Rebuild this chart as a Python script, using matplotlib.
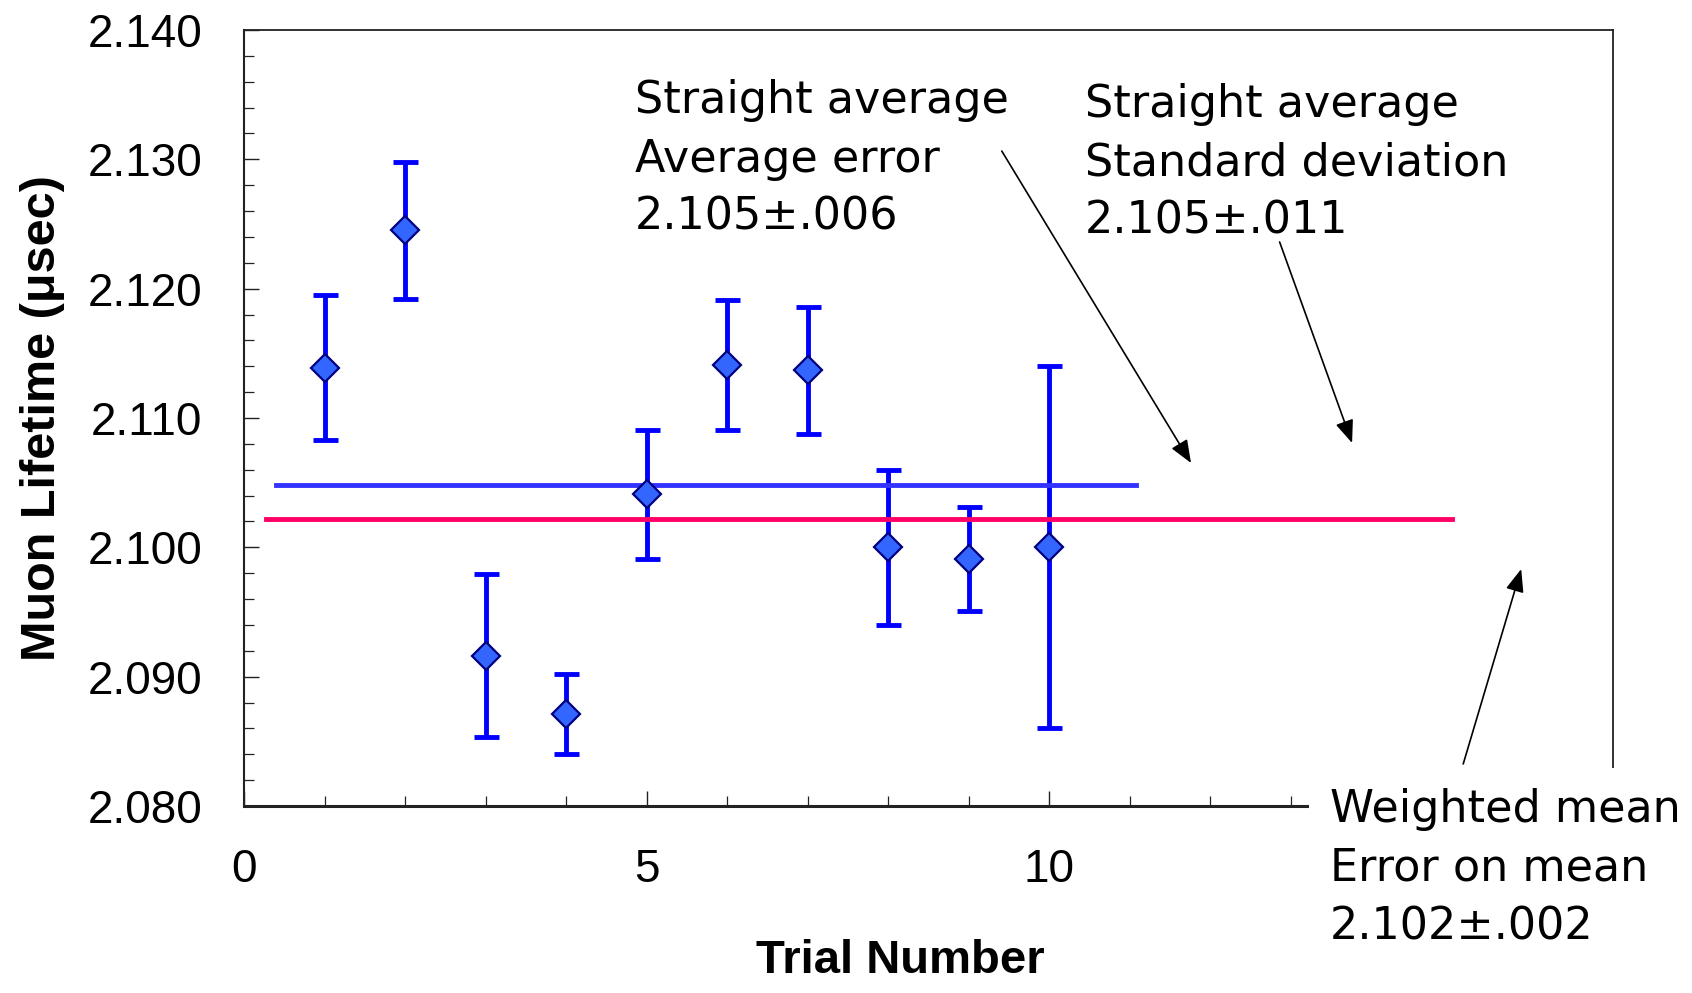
import matplotlib.pyplot as plt
from matplotlib.ticker import MultipleLocator, FormatStrFormatter, FuncFormatter

# measured muon lifetimes per trial (usec) with their errors
trial = [1, 2, 3, 4, 5, 6, 7, 8, 9, 10]
lifetime = [2.1139, 2.1245, 2.0916, 2.0871, 2.1041, 2.1141, 2.1137, 2.1000, 2.0991, 2.1000]
lifetime_err = [0.0056, 0.0053, 0.0063, 0.0031, 0.0050, 0.0050, 0.0049, 0.0060, 0.0040, 0.0140]

# the two reference lines drawn across the plot
straight_avg = 2.1048
straight_avg_x = [0.4, 11.08]
weighted_mean = 2.1022
weighted_mean_x = [0.27, 15.0]

note_straight_err = "Straight average\nAverage error\n2.105\u00b1.006"
note_straight_std = "Straight average\nStandard deviation\n2.105\u00b1.011"
note_weighted = "Weighted mean\nError on mean\n2.102\u00b1.002"

W, H = 1692, 993
fig = plt.figure(figsize=(W / 100, H / 100), dpi=100)
ax = fig.add_axes([244 / W, 1 - 806 / H, 1369 / W, 776 / H])

ax.errorbar(trial, lifetime, yerr=lifetime_err, fmt='none', ecolor='#0000FF',
            elinewidth=3.5, capsize=9, capthick=3.5, zorder=2)
ax.plot(straight_avg_x, [straight_avg] * 2, color='#3333FF', lw=3.5, zorder=3)
ax.plot(weighted_mean_x, [weighted_mean] * 2, color='#FF0066', lw=3.5, zorder=3)
ax.plot(trial, lifetime, linestyle='none', marker='D', ms=14,
        mfc='#3366FF', mec='#000080', mew=1.6, zorder=4)

ax.set_xlim(0, 17)
ax.set_ylim(2.080, 2.140)
ax.xaxis.set_major_locator(MultipleLocator(5))
ax.xaxis.set_minor_locator(MultipleLocator(1))
ax.yaxis.set_major_locator(MultipleLocator(0.010))
ax.yaxis.set_minor_locator(MultipleLocator(0.002))
ax.yaxis.set_major_formatter(FormatStrFormatter('%.3f'))
# the "15" label sits under the weighted-mean note in the original
ax.xaxis.set_major_formatter(FuncFormatter(lambda v, p: '' if v > 13 else f'{v:.0f}'))

ax.tick_params(which='both', direction='in', top=False, right=False, color='#222222')
ax.tick_params(which='major', length=10.5, width=1.0, labelsize=33, pad=30)
ax.tick_params(which='minor', length=7, width=0.9)
for lab in ax.get_xticklabels() + ax.get_yticklabels():
    lab.set_family('Liberation Sans')

ax.spines['bottom'].set_linewidth(2.2)
ax.spines['left'].set_linewidth(1.5)
ax.spines['top'].set_linewidth(1.3)
ax.spines['right'].set_linewidth(1.3)
for s in ax.spines.values():
    s.set_color('#222222')

ax.set_xlabel("Trial Number", fontsize=34, fontweight='bold', family='Liberation Sans')
ax.set_ylabel("Muon Lifetime (\u03bcsec)", fontsize=35, fontweight='bold', family='Liberation Sans')
ax.xaxis.set_label_coords((900 - 244) / 1369, -0.172)
ax.yaxis.set_label_coords(-0.131, 0.5)

arrow = dict(arrowstyle='-|>,head_length=0.7,head_width=0.28', color='black',
             lw=1.2, mutation_scale=20, shrinkA=0, shrinkB=0)
ax.annotate('', xy=(11.76, 2.10652), xytext=(9.41, 2.13064), arrowprops=arrow, annotation_clip=False)
ax.annotate('', xy=(13.76, 2.10807), xytext=(12.86, 2.12361), arrowprops=arrow, annotation_clip=False)
ax.annotate('', xy=(15.86, 2.09832), xytext=(15.14, 2.08325), arrowprops=arrow, annotation_clip=False)

# multiline text with va='baseline' sits on the baseline of its last line
note_style = dict(fontsize=32, family='DejaVu Sans', va='baseline', ha='left', linespacing=1.45)
fig.text(635 / W, 1 - 230 / H, note_straight_err, **note_style)
fig.text(1085 / W, 1 - 234 / H, note_straight_std, **note_style)
fig.text(1330 / W, 1 - 939 / H, note_weighted, zorder=10,
         bbox=dict(boxstyle='square,pad=0.47', facecolor='white', edgecolor='none'),
         **note_style)

fig.savefig('out.png', dpi=100)
